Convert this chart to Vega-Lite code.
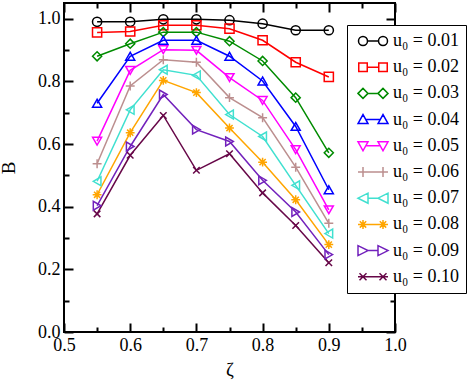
{
  "$schema": "https://vega.github.io/schema/vega-lite/v6.json",
  "width": 331,
  "height": 329,
  "autosize": {"type": "none"},
  "padding": {"left": 64, "top": 3, "right": 72, "bottom": 59},
  "background": "white",
  "config": {
    "view": {"stroke": "black", "strokeWidth": 2},
    "font": "Liberation Serif",
    "axis": {
      "domain": false, "tickColor": "black", "tickWidth": 2,
      "labelFont": "Liberation Serif", "labelFontSize": 18, "labelColor": "black",
      "titleFont": "Liberation Serif", "titleFontSize": 19, "titleFontWeight": "normal", "titleColor": "black",
      "grid": false, "labelFlush": false, "labelOverlap": false
    },
    "legend": {
      "labelFont": "Liberation Serif", "labelFontSize": 18, "labelColor": "black",
      "strokeColor": "black", "fillColor": "white"
    }
  },
  "data": {"values": [
    {"s": "u₀ = 0.01", "z": 0.55, "B": 0.99}, {"s": "u₀ = 0.01", "z": 0.6, "B": 0.99}, {"s": "u₀ = 0.01", "z": 0.65, "B": 0.998}, {"s": "u₀ = 0.01", "z": 0.7, "B": 0.998}, {"s": "u₀ = 0.01", "z": 0.75, "B": 0.995}, {"s": "u₀ = 0.01", "z": 0.8, "B": 0.984}, {"s": "u₀ = 0.01", "z": 0.85, "B": 0.963}, {"s": "u₀ = 0.01", "z": 0.9, "B": 0.963},
    {"s": "u₀ = 0.02", "z": 0.55, "B": 0.956}, {"s": "u₀ = 0.02", "z": 0.6, "B": 0.959}, {"s": "u₀ = 0.02", "z": 0.65, "B": 0.979}, {"s": "u₀ = 0.02", "z": 0.7, "B": 0.979}, {"s": "u₀ = 0.02", "z": 0.75, "B": 0.968}, {"s": "u₀ = 0.02", "z": 0.8, "B": 0.931}, {"s": "u₀ = 0.02", "z": 0.85, "B": 0.861}, {"s": "u₀ = 0.02", "z": 0.9, "B": 0.814},
    {"s": "u₀ = 0.03", "z": 0.55, "B": 0.88}, {"s": "u₀ = 0.03", "z": 0.6, "B": 0.92}, {"s": "u₀ = 0.03", "z": 0.65, "B": 0.957}, {"s": "u₀ = 0.03", "z": 0.7, "B": 0.957}, {"s": "u₀ = 0.03", "z": 0.75, "B": 0.928}, {"s": "u₀ = 0.03", "z": 0.8, "B": 0.865}, {"s": "u₀ = 0.03", "z": 0.85, "B": 0.748}, {"s": "u₀ = 0.03", "z": 0.9, "B": 0.572},
    {"s": "u₀ = 0.04", "z": 0.55, "B": 0.73}, {"s": "u₀ = 0.04", "z": 0.6, "B": 0.88}, {"s": "u₀ = 0.04", "z": 0.65, "B": 0.931}, {"s": "u₀ = 0.04", "z": 0.7, "B": 0.931}, {"s": "u₀ = 0.04", "z": 0.75, "B": 0.88}, {"s": "u₀ = 0.04", "z": 0.8, "B": 0.801}, {"s": "u₀ = 0.04", "z": 0.85, "B": 0.656}, {"s": "u₀ = 0.04", "z": 0.9, "B": 0.454},
    {"s": "u₀ = 0.05", "z": 0.55, "B": 0.609}, {"s": "u₀ = 0.05", "z": 0.6, "B": 0.835}, {"s": "u₀ = 0.05", "z": 0.65, "B": 0.901}, {"s": "u₀ = 0.05", "z": 0.7, "B": 0.899}, {"s": "u₀ = 0.05", "z": 0.75, "B": 0.812}, {"s": "u₀ = 0.05", "z": 0.8, "B": 0.739}, {"s": "u₀ = 0.05", "z": 0.85, "B": 0.582}, {"s": "u₀ = 0.05", "z": 0.9, "B": 0.39},
    {"s": "u₀ = 0.06", "z": 0.55, "B": 0.537}, {"s": "u₀ = 0.06", "z": 0.6, "B": 0.785}, {"s": "u₀ = 0.06", "z": 0.65, "B": 0.869}, {"s": "u₀ = 0.06", "z": 0.7, "B": 0.861}, {"s": "u₀ = 0.06", "z": 0.75, "B": 0.748}, {"s": "u₀ = 0.06", "z": 0.8, "B": 0.684}, {"s": "u₀ = 0.06", "z": 0.85, "B": 0.526}, {"s": "u₀ = 0.06", "z": 0.9, "B": 0.347},
    {"s": "u₀ = 0.07", "z": 0.55, "B": 0.481}, {"s": "u₀ = 0.07", "z": 0.6, "B": 0.709}, {"s": "u₀ = 0.07", "z": 0.65, "B": 0.837}, {"s": "u₀ = 0.07", "z": 0.7, "B": 0.819}, {"s": "u₀ = 0.07", "z": 0.75, "B": 0.694}, {"s": "u₀ = 0.07", "z": 0.8, "B": 0.624}, {"s": "u₀ = 0.07", "z": 0.85, "B": 0.468}, {"s": "u₀ = 0.07", "z": 0.9, "B": 0.314},
    {"s": "u₀ = 0.08", "z": 0.55, "B": 0.438}, {"s": "u₀ = 0.08", "z": 0.6, "B": 0.636}, {"s": "u₀ = 0.08", "z": 0.65, "B": 0.803}, {"s": "u₀ = 0.08", "z": 0.7, "B": 0.764}, {"s": "u₀ = 0.08", "z": 0.75, "B": 0.651}, {"s": "u₀ = 0.08", "z": 0.8, "B": 0.542}, {"s": "u₀ = 0.08", "z": 0.85, "B": 0.422}, {"s": "u₀ = 0.08", "z": 0.9, "B": 0.279},
    {"s": "u₀ = 0.09", "z": 0.55, "B": 0.403}, {"s": "u₀ = 0.09", "z": 0.6, "B": 0.592}, {"s": "u₀ = 0.09", "z": 0.65, "B": 0.758}, {"s": "u₀ = 0.09", "z": 0.7, "B": 0.646}, {"s": "u₀ = 0.09", "z": 0.75, "B": 0.608}, {"s": "u₀ = 0.09", "z": 0.8, "B": 0.484}, {"s": "u₀ = 0.09", "z": 0.85, "B": 0.383}, {"s": "u₀ = 0.09", "z": 0.9, "B": 0.247},
    {"s": "u₀ = 0.10", "z": 0.55, "B": 0.377}, {"s": "u₀ = 0.10", "z": 0.6, "B": 0.564}, {"s": "u₀ = 0.10", "z": 0.65, "B": 0.691}, {"s": "u₀ = 0.10", "z": 0.7, "B": 0.516}, {"s": "u₀ = 0.10", "z": 0.75, "B": 0.569}, {"s": "u₀ = 0.10", "z": 0.8, "B": 0.444}, {"s": "u₀ = 0.10", "z": 0.85, "B": 0.34}, {"s": "u₀ = 0.10", "z": 0.9, "B": 0.221}
  ]},
  "layer": [
    {
      "mark": {"type": "line", "strokeWidth": 1.5},
      "encoding": {
        "x": {"field": "z", "type": "quantitative", "scale": {"domain": [0.5, 1.0], "nice": false, "zero": false},
          "axis": {"orient": "bottom", "title": "ζ", "values": [0.5, 0.6, 0.7, 0.8, 0.9, 1.0], "format": ".1f",
            "offset": -9, "tickSize": 9, "labelPadding": 4, "titlePadding": 6}},
        "y": {"field": "B", "type": "quantitative", "scale": {"domain": [0, 1.05], "nice": false},
          "axis": {"orient": "left", "title": "B", "values": [0, 0.2, 0.4, 0.6, 0.8, 1.0], "format": ".1f",
            "offset": -9, "tickSize": 9, "labelPadding": 4, "titlePadding": 19}},
        "color": {"field": "s", "type": "nominal", "legend": null,
          "scale": {"domain": ["u₀ = 0.01", "u₀ = 0.02", "u₀ = 0.03", "u₀ = 0.04", "u₀ = 0.05", "u₀ = 0.06", "u₀ = 0.07", "u₀ = 0.08", "u₀ = 0.09", "u₀ = 0.10"],
            "range": ["#000000", "#ff0000", "#008b00", "#0000ff", "#ff00ff", "#bc8f8f", "#40e0d0", "#ffa500", "#7221bc", "#670748"]}}
      }
    },
    {
      "mark": {"type": "point", "filled": false, "strokeWidth": 1.5, "opacity": 1},
      "encoding": {
        "x": {"field": "z", "type": "quantitative", "scale": {"domain": [0.5, 1.0], "nice": false, "zero": false},
          "axis": {"orient": "top", "title": null, "labels": false, "values": [0.5, 0.6, 0.7, 0.8, 0.9, 1.0], "offset": -9, "tickSize": 9}},
        "y": {"field": "B", "type": "quantitative", "scale": {"domain": [0, 1.05], "nice": false},
          "axis": {"orient": "right", "title": null, "labels": false, "values": [0, 0.2, 0.4, 0.6, 0.8, 1.0], "offset": -9, "tickSize": 9}},
        "color": {"field": "s", "type": "nominal", "legend": null,
          "scale": {"domain": ["u₀ = 0.01", "u₀ = 0.02", "u₀ = 0.03", "u₀ = 0.04", "u₀ = 0.05", "u₀ = 0.06", "u₀ = 0.07", "u₀ = 0.08", "u₀ = 0.09", "u₀ = 0.10"],
            "range": ["#000000", "#ff0000", "#008b00", "#0000ff", "#ff00ff", "#bc8f8f", "#40e0d0", "#ffa500", "#7221bc", "#670748"]}},
        "shape": {"field": "s", "type": "nominal", "legend": null,
          "scale": {"domain": ["u₀ = 0.01", "u₀ = 0.02", "u₀ = 0.03", "u₀ = 0.04", "u₀ = 0.05", "u₀ = 0.06", "u₀ = 0.07", "u₀ = 0.08", "u₀ = 0.09", "u₀ = 0.10"],
            "range": ["circle", "square", "diamond", "triangle-up", "triangle-down", "M-1,0H1M0,-1V1", "triangle-left", "M-1,0H1M0,-1V1M-0.7,-0.7L0.7,0.7M-0.7,0.7L0.7,-0.7", "triangle-right", "M-0.75,-0.75L0.75,0.75M-0.75,0.75L0.75,-0.75"]}},
        "size": {"field": "s", "type": "nominal", "legend": null,
          "scale": {"domain": ["u₀ = 0.01", "u₀ = 0.02", "u₀ = 0.03", "u₀ = 0.04", "u₀ = 0.05", "u₀ = 0.06", "u₀ = 0.07", "u₀ = 0.08", "u₀ = 0.09", "u₀ = 0.10"],
            "range": [85, 76, 90, 115, 115, 85, 115, 90, 115, 70]}}
      }
    },
    {
      "transform": [{"filter": "datum.B > 5"}],
      "mark": {"type": "point", "filled": false, "strokeWidth": 1.5},
      "encoding": {
        "x": {"field": "z", "type": "quantitative", "scale": {"domain": [0.5, 1.0], "nice": false, "zero": false},
          "axis": {"orient": "bottom", "title": null, "labels": false, "values": [0.55, 0.65, 0.75, 0.85, 0.95], "offset": -5, "tickSize": 5}},
        "y": {"field": "B", "type": "quantitative", "scale": {"domain": [0, 1.05], "nice": false},
          "axis": {"orient": "left", "title": null, "labels": false, "values": [0.1, 0.3, 0.5, 0.7, 0.9], "offset": -5, "tickSize": 5}},
        "color": {"field": "s", "type": "nominal",
          "scale": {"domain": ["u₀ = 0.01", "u₀ = 0.02", "u₀ = 0.03", "u₀ = 0.04", "u₀ = 0.05", "u₀ = 0.06", "u₀ = 0.07", "u₀ = 0.08", "u₀ = 0.09", "u₀ = 0.10"],
            "range": ["#000000", "#ff0000", "#008b00", "#0000ff", "#ff00ff", "#bc8f8f", "#40e0d0", "#ffa500", "#7221bc", "#670748"]},
          "legend": {"title": null, "orient": "none", "legendX": 283, "legendY": 22, "padding": 7, "rowPadding": 8.2,
            "symbolSize": 100, "symbolStrokeWidth": 1.5, "symbolOffset": 10, "labelOffset": 11, "labelLimit": 0,
            "symbolOpacity": 1}},
        "shape": {"field": "s", "type": "nominal",
          "scale": {"domain": ["u₀ = 0.01", "u₀ = 0.02", "u₀ = 0.03", "u₀ = 0.04", "u₀ = 0.05", "u₀ = 0.06", "u₀ = 0.07", "u₀ = 0.08", "u₀ = 0.09", "u₀ = 0.10"],
            "range": [
              "M-2.9,0A0.9,0.9 0 1,1 -1.1,0A0.9,0.9 0 1,1 -2.9,0ZM-1.1,0H1.1M1.1,0A0.9,0.9 0 1,1 2.9,0A0.9,0.9 0 1,1 1.1,0Z",
              "M-2.85,-0.85H-1.15V0.85H-2.85ZM-1.15,0H1.15M1.15,-0.85H2.85V0.85H1.15Z",
              "M-3,0L-2,-1L-1,0L-2,1ZM-1,0H1M1,0L2,-1L3,0L2,1Z",
              "M-3,0.8L-2,-1L-1,0.8ZM-1.44,0H1.44M1,0.8L2,-1L3,0.8Z",
              "M-3,-0.8L-1,-0.8L-2,1ZM-1.44,0H1.44M1,-0.8L3,-0.8L2,1Z",
              "M-3,0H3M-2,-1V1M2,-1V1",
              "M-1,-1V1L-3,0ZM-1,0H1M3,-1V1L1,0Z",
              "M-3,0H3M-2,-0.9V0.9M-2.64,-0.64L-1.36,0.64M-2.64,0.64L-1.36,-0.64M2,-0.9V0.9M1.36,-0.64L2.64,0.64M1.36,0.64L2.64,-0.64",
              "M-3,-1V1L-1,0ZM-1,0H1M1,-1V1L3,0Z",
              "M-3,0H3M-2.7,-0.7L-1.3,0.7M-2.7,0.7L-1.3,-0.7M1.3,-0.7L2.7,0.7M1.3,0.7L2.7,-0.7"
            ]}}
      }
    },
    {
      "transform": [{"filter": "datum.B > 5"}],
      "mark": {"type": "point", "filled": false},
      "encoding": {
        "x": {"field": "z", "type": "quantitative", "scale": {"domain": [0.5, 1.0], "nice": false, "zero": false},
          "axis": {"orient": "top", "title": null, "labels": false, "values": [0.55, 0.65, 0.75, 0.85, 0.95], "offset": -5, "tickSize": 5}},
        "y": {"field": "B", "type": "quantitative", "scale": {"domain": [0, 1.05], "nice": false},
          "axis": {"orient": "right", "title": null, "labels": false, "values": [0.1, 0.3, 0.5, 0.7, 0.9], "offset": -5, "tickSize": 5}}
      }
    }
  ],
  "resolve": {
    "scale": {"color": "independent", "shape": "independent", "size": "independent"},
    "axis": {"x": "independent", "y": "independent"},
    "legend": {"color": "independent", "shape": "independent", "size": "independent"}
  }
}
